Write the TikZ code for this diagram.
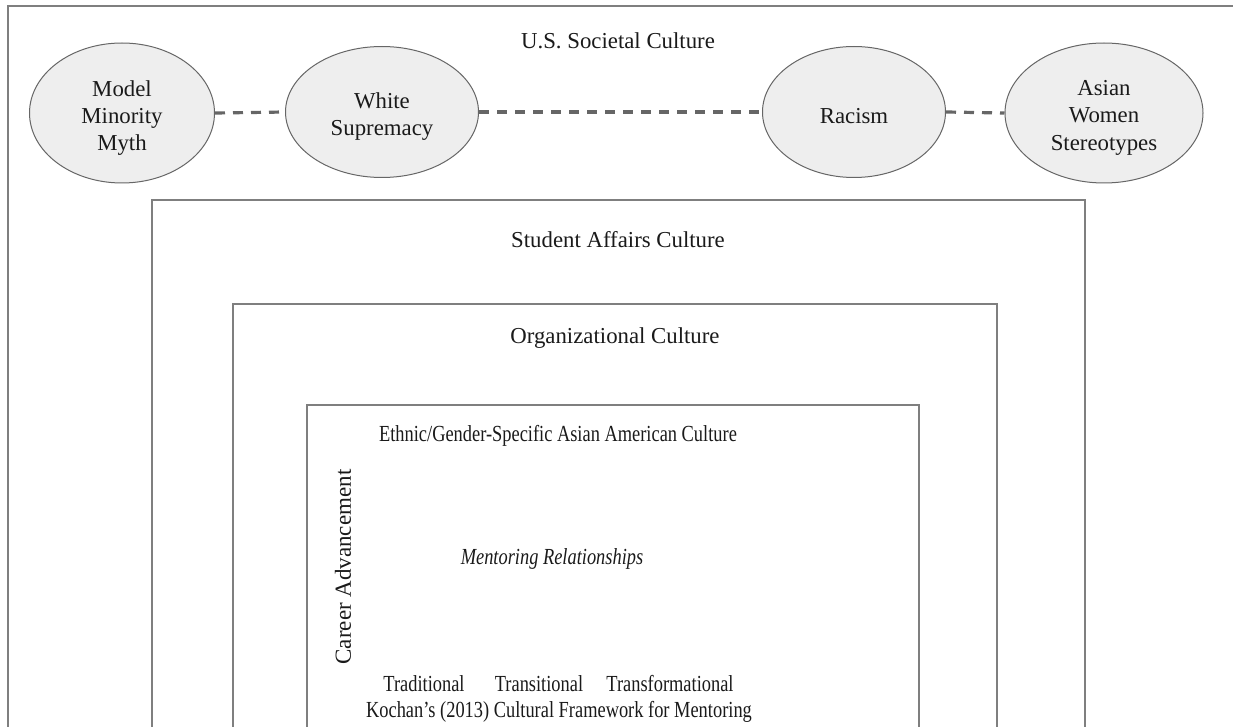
\documentclass[tikz,border=0pt]{standalone}
\usepackage{fontspec}
\usepackage{graphicx}
\setmainfont{Liberation Serif}
\usetikzlibrary{shapes.geometric}

\definecolor{framegray}{HTML}{7F7F7F}
\definecolor{bubblefill}{HTML}{EEEEEE}
\definecolor{bubbleedge}{HTML}{666666}
\definecolor{linkgray}{HTML}{666666}
\definecolor{inkblack}{HTML}{1A1A1A}

% condensed setting used for the labels of the innermost box
\newcommand\narrowtext[1]{\scalebox{0.8}[1]{#1}}

\tikzset{
  outerframe/.style={draw=framegray, line width=1.2pt},
  layer/.style={draw=framegray, line width=0.8pt},
  bubble/.style={ellipse, draw=bubbleedge, fill=bubblefill, line width=0.5pt,
    inner sep=0pt},
  bubbletext/.style={inner sep=0pt, align=center, text=inkblack,
    font=\fontsize{11.4}{13.6}\selectfont},
  link/.style={draw=linkgray, line width=1.6pt, dash pattern=on 5pt off 4pt},
  toplabel/.style={anchor=base, inner sep=0pt, text=inkblack,
    font=\fontsize{11.4}{13.6}\selectfont},
  boxlabel/.style={anchor=base, inner sep=0pt, text=inkblack,
    font=\fontsize{11.5}{13.8}\selectfont},
}

\begin{document}
\begin{tikzpicture}[x=0.5pt, y=-0.5pt]
  \useasboundingbox (0,0) rectangle (1233,727);

  % nested culture layers
  \draw[outerframe] (8,745) -- (8,6) -- (1245,6);
  \draw[layer] (152,745) -- (152,200) -- (1085,200) -- (1085,745);
  \draw[layer] (233,745) -- (233,304) -- (997,304) -- (997,745);
  \draw[layer] (307,745) -- (307,405) -- (919,405) -- (919,745);

  % societal-level influences
  \node[toplabel] (societal) at (618,49) {U.S. Societal Culture};
  \node[bubble, minimum width=92.5pt, minimum height=70pt] (mmm) at (122,113) {};
  \node[bubble, minimum width=96.5pt, minimum height=65.5pt] (ws) at (382,112) {};
  \node[bubble, minimum width=91.5pt, minimum height=65.5pt] (rac) at (854,112) {};
  \node[bubble, minimum width=99pt, minimum height=70pt] (aws) at (1104,113) {};

  \node[bubbletext] (mmmtext) at ([yshift=-2.4pt]mmm.center) {Model\\Minority\\Myth};
  \node[bubbletext] (wstext) at ([yshift=-2.2pt]ws.center) {White\\Supremacy};
  \node[bubbletext] (ractext) at ([yshift=-2pt]rac.center) {Racism};
  \node[bubbletext] (awstext) at ([yshift=-2.4pt]aws.center) {Asian\\Women\\Stereotypes};

  \draw[link] (mmm.east) -- (ws.west);
  \draw[link] (ws.east) -- (rac.west);
  \draw[link] (rac.east) -- (aws.west);

  % layer titles
  \node[toplabel] (sa) at (618,248) {Student Affairs Culture};
  \node[toplabel] (org) at (615,344) {Organizational Culture};
  \node[boxlabel] (eth) at (558,442) {\narrowtext{Ethnic/Gender-Specific Asian American Culture}};

  % mentoring space
  \node[boxlabel] (mr) at (552,565) {\narrowtext{\itshape Mentoring Relationships}};
  \node[inner sep=0pt, rotate=90, text=inkblack, font=\fontsize{11.5}{13.8}\selectfont] (ca) at (343,567) {Career Advancement};
  \node[boxlabel] (trad) at (424,691) {\narrowtext{Traditional}};
  \node[boxlabel] (trans) at (539,691) {\narrowtext{Transitional}};
  \node[boxlabel] (transf) at (670,691) {\narrowtext{Transformational}};
  \node[boxlabel] (kochan) at (559,717) {\narrowtext{Kochan’s (2013) Cultural Framework for Mentoring}};
\end{tikzpicture}
\end{document}
